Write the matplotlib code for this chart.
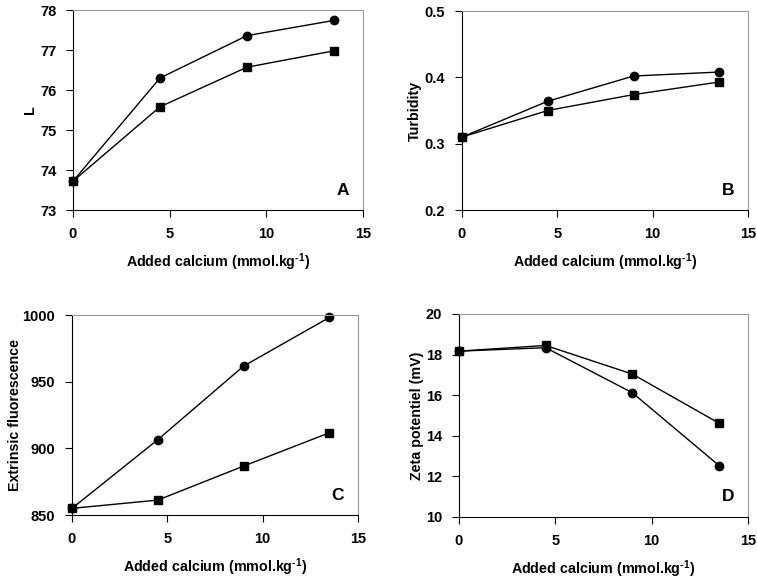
import matplotlib
matplotlib.use("Agg")
import matplotlib.pyplot as plt

plt.rcParams['font.family'] = ['Liberation Sans', 'DejaVu Sans']
plt.rcParams['font.weight'] = 'bold'
plt.rcParams['mathtext.fontset'] = 'custom'
plt.rcParams['mathtext.rm'] = 'Liberation Sans:bold'
plt.rcParams['mathtext.bf'] = 'Liberation Sans:bold'
plt.rcParams['mathtext.default'] = 'bf'

calcium = [0, 4.5, 9, 13.5]

L_circle = [73.72, 76.30, 77.36, 77.74]
L_square = [73.72, 75.58, 76.57, 76.98]

turb_circle = [0.310, 0.364, 0.402, 0.408]
turb_square = [0.310, 0.350, 0.374, 0.393]

fluo_circle = [855, 906.5, 961.7, 998.2]
fluo_square = [855, 861.2, 886.7, 911.7]

zeta_circle = [18.17, 18.34, 16.12, 12.53]
zeta_square = [18.17, 18.45, 17.04, 14.62]

xlabel = "Added calcium (mmol.kg$^{\\text{-}1}$)"

panels = [
    dict(rect=[0.0964, 0.6373, 0.3831, 0.3454], circ=L_circle, sq=L_square,
         ylim=(73, 78), yticks=[73, 74, 75, 76, 77, 78], yfmt="{:.0f}",
         ylabel="L", letter="A", ylx=-0.148),
    dict(rect=[0.6103, 0.6373, 0.3778, 0.3437], circ=turb_circle, sq=turb_square,
         ylim=(0.2, 0.5), yticks=[0.2, 0.3, 0.4, 0.5], yfmt="{:.1f}",
         ylabel="Turbidity", letter="B", ylx=-0.164),
    dict(rect=[0.0951, 0.1105, 0.3778, 0.3454], circ=fluo_circle, sq=fluo_square,
         ylim=(850, 1000), yticks=[850, 900, 950, 1000], yfmt="{:.0f}",
         ylabel="Extrinsic fluorescence", letter="C", ylx=-0.199),
    dict(rect=[0.6063, 0.1071, 0.3818, 0.3506], circ=zeta_circle, sq=zeta_square,
         ylim=(10, 20), yticks=[10, 12, 14, 16, 18, 20], yfmt="{:.0f}",
         ylabel="Zeta potentiel (mV)", letter="D", ylx=-0.145),
]

fig = plt.figure(figsize=(7.57, 5.79), dpi=100)

for p in panels:
    ax = fig.add_axes(p["rect"])
    ax.plot(calcium, p["circ"], color="black", lw=1.0, marker="o", ms=6,
            markerfacecolor="black", clip_on=False)
    ax.plot(calcium, p["sq"], color="black", lw=1.0, marker="s", ms=6,
            markerfacecolor="black", clip_on=False)
    ax.set_xlim(0, 15)
    ax.set_ylim(*p["ylim"])
    ax.set_xticks([0, 5, 10, 15])
    ax.set_xticklabels(["0", "5", "10", "15"])
    ax.set_yticks(p["yticks"])
    ax.set_yticklabels([p["yfmt"].format(v) for v in p["yticks"]])
    ax.tick_params(direction="out", length=5, width=0.8, labelsize=10.5, pad=7)
    for lab in ax.get_xticklabels() + ax.get_yticklabels():
        lab.set_fontweight("bold")
    for s in ["top", "right"]:
        ax.spines[s].set_color("#999999")
        ax.spines[s].set_linewidth(0.8)
    for s in ["left", "bottom"]:
        ax.spines[s].set_linewidth(0.8)
    ax.set_xlabel(xlabel, fontsize=10.3, fontweight="bold", labelpad=8)
    ax.set_ylabel(p["ylabel"], fontsize=10.3, fontweight="bold",
                  va="center", ha="center")
    ax.yaxis.set_label_coords(p["ylx"], 0.5)
    ax.text(0.93, 0.1, p["letter"], transform=ax.transAxes, fontsize=12.5,
            fontweight="bold", ha="center", va="center")

fig.savefig("out.png", dpi=100)
